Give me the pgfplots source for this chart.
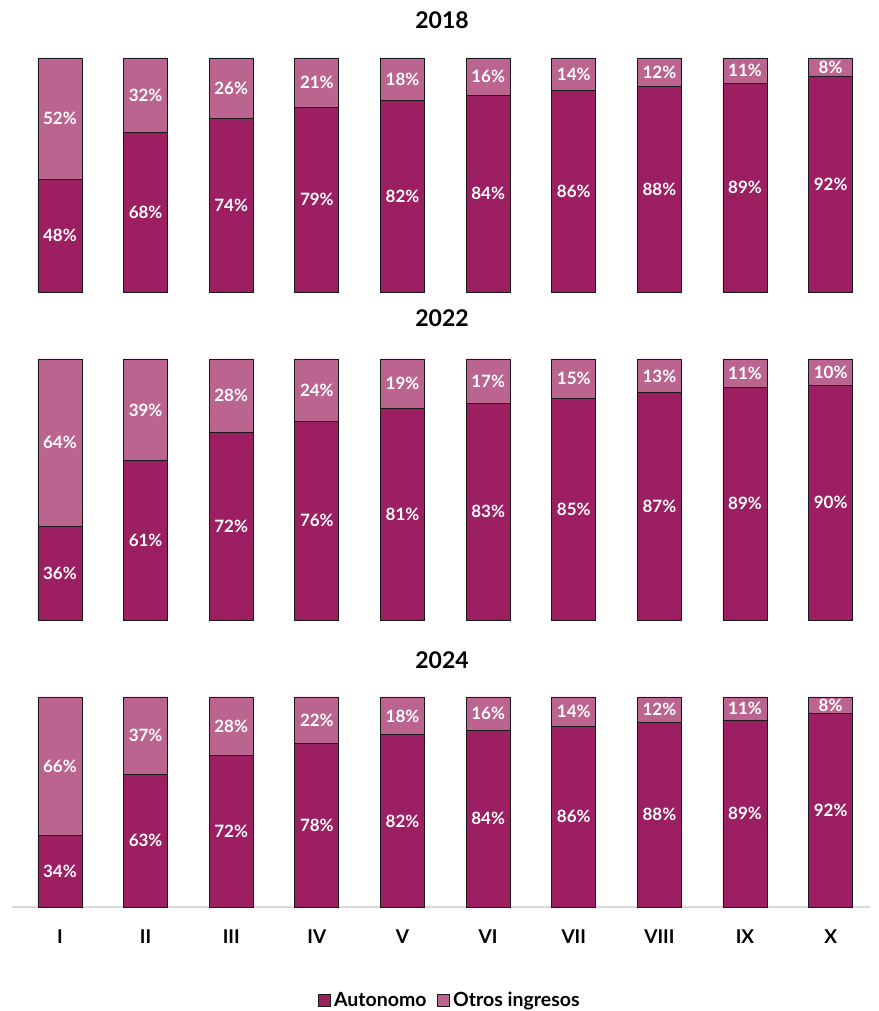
\documentclass[border=0pt]{standalone}
\usepackage{pgfplots}
\usepackage{pgfplotstable}
\pgfplotsset{compat=1.18}
\usepackage{fontspec}
\setmainfont{Lato}

\definecolor{auto}{HTML}{9C1F61}
\definecolor{otros}{HTML}{BC6490}
\definecolor{axisgray}{HTML}{D9D9D9}

% x = category (0..9), a = Autonomo, o = Otros ingresos
\pgfplotstableread{
x a o
0 48 52
1 68 32
2 74 26
3 79 21
4 82 18
5 84 16
6 86 14
7 88 12
8 89 11
9 92 8
}\dataA
\pgfplotstableread{
x a o
0 36 64
1 61 39
2 72 28
3 76 24
4 81 19
5 83 17
6 85 15
7 87 13
8 89 11
9 90 10
}\dataB
\pgfplotstableread{
x a o
0 34 66
1 63 37
2 72 28
3 78 22
4 82 18
5 84 16
6 86 14
7 88 12
8 89 11
9 92 8
}\dataC

\pgfplotsset{
  panel/.style={
    scale only axis,
    width=858pt,
    xmin=-0.56, xmax=9.46,
    ymin=0, ymax=100,
    clip=false,
    ytick=\empty,
    bar width=44pt,
    /pgf/number format/assume math mode=true,
  },
  sq/.style={legend image code/.code={%
    \draw[##1, line width=0.6pt] (0pt,-6pt) rectangle (12pt,6pt);}},
  segA/.style={ybar stacked, fill=auto, draw=black!90, line width=0.9pt, mark=none, sq},
  segO/.style={ybar stacked, fill=otros, draw=black!90, line width=0.9pt, mark=none, sq},
  lbl/.style={only marks, mark=none, forget plot,
    nodes near coords={\pgfmathprintnumber[fixed,precision=0,assume math mode=true]{\pgfplotspointmeta}\%},
    point meta=explicit,
    nodes near coords style={anchor=center, text=white,
      font=\fontsize{17}{17}\selectfont\bfseries}},
}

\newcommand{\panel}[1]{%
  \addplot[segA] table[x=x, y=a] {#1};
  \addplot[segO] table[x=x, y=o] {#1};
  \addplot[lbl] table[x=x, y expr=\thisrow{a}/2, meta=a] {#1};
  \addplot[lbl] table[x=x, y expr=\thisrow{a}+\thisrow{o}/2, meta=o] {#1};
}

\begin{document}
\begin{tikzpicture}[x=1pt, y=1pt]
\useasboundingbox (0,0) rectangle (878,1011);

\node[font=\fontsize{23}{23}\selectfont\bfseries] at (442,991) {2018};
\begin{axis}[panel, at={(12pt,719pt)}, anchor=south west, height=234pt,
  hide axis]
\panel{\dataA}
\end{axis}

\node[font=\fontsize{23}{23}\selectfont\bfseries] at (442,693) {2022};
\begin{axis}[panel, at={(12pt,391pt)}, anchor=south west, height=261pt,
  hide axis]
\panel{\dataB}
\end{axis}

\node[font=\fontsize{23}{23}\selectfont\bfseries] at (442,351) {2024};
\begin{axis}[panel, at={(12pt,104pt)}, anchor=south west, height=210pt,
  axis x line*=bottom, axis y line=none,
  x axis line style={draw=axisgray, line width=1.2pt, -},
  xtick={0,...,9}, xticklabels={I,II,III,IV,V,VI,VII,VIII,IX,X},
  major tick length=0pt,
  xticklabel style={font=\fontsize{19}{19}\selectfont\bfseries, yshift=-19pt, text=black},
  legend style={at={(0.51,-0.443)}, anchor=center, draw=none,
    font=\fontsize{19.5}{19.5}\selectfont\bfseries,
    /tikz/every odd column/.append style={column sep=2pt},
    /tikz/every even column/.append style={column sep=8pt}},
  legend columns=2,
]
\addplot[segA] table[x=x, y=a] {\dataC};
\addlegendentry{Autonomo}
\addplot[segO] table[x=x, y=o] {\dataC};
\addlegendentry{Otros ingresos}
\addplot[lbl] table[x=x, y expr=\thisrow{a}/2, meta=a] {\dataC};
\addplot[lbl] table[x=x, y expr=\thisrow{a}+\thisrow{o}/2, meta=o] {\dataC};
\end{axis}
\end{tikzpicture}
\end{document}
